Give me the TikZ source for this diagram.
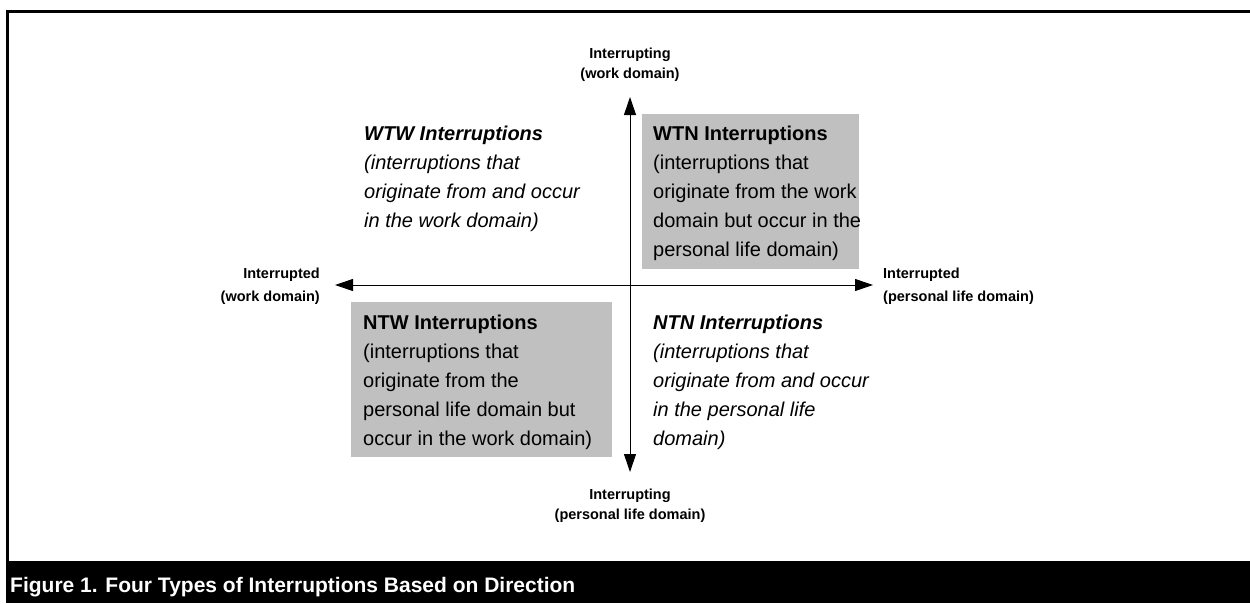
\documentclass[tikz,border=0pt]{standalone}
\usepackage{fontspec}
\setmainfont{Liberation Sans}
\usetikzlibrary{arrows.meta}
\definecolor{boxgray}{HTML}{C0C0C0}
\tikzset{
  axislbl/.style={inner sep=0pt, font=\fontsize{14.5}{16}\selectfont\bfseries},
  bodytxt/.style={inner sep=0pt, anchor=base west, font=\fontsize{20}{24}\selectfont},
  bodyit/.style={bodytxt, font=\fontsize{20}{24}\selectfont\itshape},
  graybox/.style={fill=boxgray, draw=none},
  axisarrow/.style={line width=1pt, -{Triangle[length=18pt,width=12pt]}},
  framestyle/.style={line width=3pt, line cap=rect}
}
\begin{document}
\begin{tikzpicture}[x=1pt,y=-1pt]
\useasboundingbox (0,0) rectangle (1250,603);
% frame
\draw[framestyle] (7.5,561) -- (7.5,11) -- (1252,11);
% caption bar
\fill[black] (6,561) rectangle (1250,603);
\node[inner sep=0pt, anchor=base west, text=white, font=\fontsize{21}{24}\selectfont\bfseries] (cap) at (10,592) {Figure 1. Four Types of Interruptions Based on Direction};
% gray boxes
\node[graybox, minimum width=217pt, minimum height=155pt, anchor=north west, inner sep=0pt] (wtnbox) at (642,114) {};
\node[graybox, minimum width=261pt, minimum height=155pt, anchor=north west, inner sep=0pt] (ntwbox) at (351,302) {};
% axes
\coordinate (c) at (630,285);
\coordinate (top) at (630,97);
\coordinate (bot) at (630,472);
\coordinate (lft) at (335,285);
\coordinate (rgt) at (873,285);
\draw[axisarrow] (c) -- (top);
\draw[axisarrow] (c) -- (bot);
\draw[axisarrow] (c) -- (lft);
\draw[axisarrow] (c) -- (rgt);
% axis labels
\node[axislbl, anchor=base] (t1) at (630,58) {Interrupting};
\node[axislbl, anchor=base] (t2) at (630,78) {(work domain)};
\node[axislbl, anchor=base] (b1) at (630,499) {Interrupting};
\node[axislbl, anchor=base] (b2) at (630,519) {(personal life domain)};
\node[axislbl, anchor=base east] (l1) at (320,278) {Interrupted};
\node[axislbl, anchor=base east] (l2) at (320,301) {(work domain)};
\node[axislbl, anchor=base west] (r1) at (883,278) {Interrupted};
\node[axislbl, anchor=base west] (r2) at (883,301) {(personal life domain)};
% WTW
\node[bodyit] (wtw0) at (364,140) {\bfseries WTW Interruptions};
\node[bodyit] (wtw1) at (364,169) {(interruptions that};
\node[bodyit] (wtw2) at (364,198) {originate from and occur};
\node[bodyit] (wtw3) at (364,227) {in the work domain)};
% WTN
\node[bodytxt] (wtn0) at (653,140) {\bfseries WTN Interruptions};
\node[bodytxt] (wtn1) at (653,169) {(interruptions that};
\node[bodytxt] (wtn2) at (653,198) {originate from the work};
\node[bodytxt] (wtn3) at (653,227) {domain but occur in the};
\node[bodytxt] (wtn4) at (653,256) {personal life domain)};
% NTW
\node[bodytxt] (ntw0) at (363,329) {\bfseries NTW Interruptions};
\node[bodytxt] (ntw1) at (363,358) {(interruptions that};
\node[bodytxt] (ntw2) at (363,387) {originate from the};
\node[bodytxt] (ntw3) at (363,416) {personal life domain but};
\node[bodytxt] (ntw4) at (363,445) {occur in the work domain)};
% NTN
\node[bodyit] (ntn0) at (653,329) {\bfseries NTN Interruptions};
\node[bodyit] (ntn1) at (653,358) {(interruptions that};
\node[bodyit] (ntn2) at (653,387) {originate from and occur};
\node[bodyit] (ntn3) at (653,416) {in the personal life};
\node[bodyit] (ntn4) at (653,445) {domain)};
\end{tikzpicture}
\end{document}
